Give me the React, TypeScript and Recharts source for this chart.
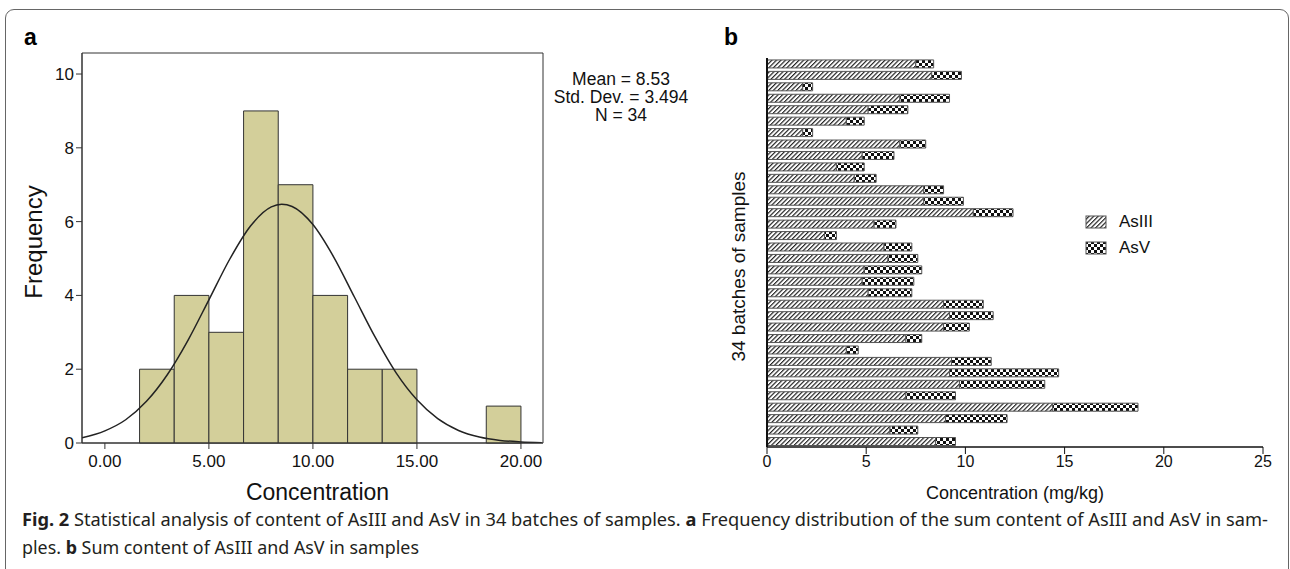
import { LineChart, Line, XAxis, YAxis, ReferenceArea, BarChart, Bar } from "recharts"

// panel a: histogram of total (AsIII + AsV) content
const binLow = [1.667, 3.333, 5.0, 6.667, 8.333, 10.0, 11.667, 13.333, 18.333]
const binHigh = [3.333, 5.0, 6.667, 8.333, 10.0, 11.667, 13.333, 15.0, 20.0]
const binFreq = [2, 4, 3, 9, 7, 4, 2, 2, 1]

// fitted normal curve
const curveX = [-1.1, 0, 1, 2, 3, 4, 5, 6, 7, 8, 8.5, 9, 10, 11, 12, 13, 14, 15, 16, 17, 18, 19, 20, 21]
const curveY = [0.14, 0.33, 0.63, 1.13, 1.85, 2.79, 3.88, 4.98, 5.88, 6.4, 6.47, 6.41, 5.92, 5.04, 3.95, 2.86, 1.9, 1.17, 0.66, 0.34, 0.16, 0.07, 0.03, 0.01]

const histXTicks = [0, 5, 10, 15, 20]
const histYTicks = [0, 2, 4, 6, 8, 10]

// panel b: 34 batches, top to bottom
const batchIds = [
  "1", "2", "3", "4", "5", "6", "7", "8", "9", "10", "11", "12", "13", "14", "15", "16", "17",
  "18", "19", "20", "21", "22", "23", "24", "25", "26", "27", "28", "29", "30", "31", "32", "33", "34",
]
const asIII = [
  7.5, 8.3, 1.8, 6.7, 5.1, 4.0, 1.8, 6.7, 4.8, 3.5, 4.4, 7.9, 7.9, 10.4, 5.4, 2.9, 5.9,
  6.1, 4.9, 4.8, 5.1, 8.9, 9.2, 8.9, 7.0, 4.0, 9.3, 9.2, 9.7, 7.0, 14.4, 9.0, 6.2, 8.5,
]
const asV = [
  0.9, 1.5, 0.5, 2.5, 2.0, 0.9, 0.5, 1.3, 1.6, 1.4, 1.1, 1.0, 2.0, 2.0, 1.1, 0.6, 1.4,
  1.5, 2.9, 2.6, 2.2, 2.0, 2.2, 1.3, 0.8, 0.6, 2.0, 5.5, 4.3, 2.5, 4.3, 3.1, 1.4, 1.0,
]
const concTicks = [0, 5, 10, 15, 20, 25]

const legendItems = [
  { label: "AsIII", pattern: "hatch" },
  { label: "AsV", pattern: "checker" },
]

const curveData = curveX.map((x, i) => ({ x, y: curveY[i] }))
const batchData = batchIds.map((id, i) => ({ id, asIII: asIII[i], asV: asV[i] }))

const FONT = "'Liberation Sans', Arial, sans-serif"

function PatternLegend() {
  return (
    <div style={{ position: "absolute", left: 1085, top: 209, fontFamily: FONT }}>
      {legendItems.map((item) => (
        <div key={item.label} style={{ display: "flex", alignItems: "center", height: 26 }}>
          <svg width={22} height={14}>
            <rect x={1} y={1} width={20} height={12} fill={`url(#${item.pattern})`} stroke="#555" />
          </svg>
          <span style={{ marginLeft: 12, fontSize: 17, color: "#111" }}>{item.label}</span>
        </div>
      ))}
    </div>
  )
}

export default function App() {
  return (
    <div
      style={{
        position: "absolute",
        left: 0,
        top: 0,
        width: 1290,
        height: 569,
        background: "#fff",
        overflow: "hidden",
        fontFamily: FONT,
      }}
    >
      <div
        style={{
          position: "absolute",
          left: 5,
          top: 9,
          width: 1282,
          height: 620,
          border: "1px solid #666",
          borderRadius: 9,
        }}
      />

      <div style={{ position: "absolute", left: 24, top: 24, fontSize: 23, fontWeight: "bold" }}>a</div>
      <div style={{ position: "absolute", left: 724, top: 24, fontSize: 23, fontWeight: "bold" }}>b</div>

      <div style={{ position: "absolute", left: 0, top: 0 }}>
        <LineChart
          width={700}
          height={505}
          data={curveData}
          margin={{ top: 53, right: 157, left: 22, bottom: 0 }}
        >
          <XAxis
            dataKey="x"
            type="number"
            domain={[-1.1, 21.06]}
            ticks={histXTicks}
            allowDataOverflow
            tickFormatter={(v: number) => v.toFixed(2)}
            height={62}
            stroke="#333"
            tickMargin={6}
            tick={{ fill: "#111", fontSize: 17 }}
            label={{ value: "Concentration", position: "insideBottom", offset: 5, dx: 5, fill: "#111", fontSize: 23 }}
          />
          <YAxis
            type="number"
            domain={[0, 10.57]}
            ticks={histYTicks}
            allowDataOverflow
            width={60}
            stroke="#333"
            tick={{ fill: "#111", fontSize: 17 }}
            label={{
              value: "Frequency",
              angle: -90,
              position: "insideLeft",
              offset: 11,
              dy: -6,
              fill: "#111",
              fontSize: 24,
              style: { textAnchor: "middle" },
            }}
          />
          <ReferenceArea x1={-1.1} x2={21.06} y1={0} y2={10.57} fill="none" stroke="#333" strokeWidth={1} />
          {binFreq.map((f, i) => (
            <ReferenceArea
              key={i}
              x1={binLow[i]}
              x2={binHigh[i]}
              y1={0}
              y2={f}
              fill="#d3cf9a"
              fillOpacity={1}
              stroke="#333"
              strokeWidth={1}
            />
          ))}
          <Line
            type="monotone"
            dataKey="y"
            stroke="#222"
            strokeWidth={1.5}
            dot={false}
            activeDot={false}
            isAnimationActive={false}
          />
        </LineChart>
      </div>

      <div
        style={{
          position: "absolute",
          left: 551,
          top: 70,
          width: 140,
          textAlign: "center",
          fontSize: 17.5,
          lineHeight: "18px",
          color: "#111",
        }}
      >
        <div>Mean = 8.53</div>
        <div>Std. Dev. = 3.494</div>
        <div>N = 34</div>
      </div>

      <div style={{ position: "absolute", left: 700, top: 0 }}>
        <BarChart
          width={583}
          height={505}
          data={batchData}
          layout="vertical"
          barCategoryGap="17%"
          margin={{ top: 58, right: 20, left: 17, bottom: 0 }}
        >
          <defs>
            <pattern id="hatch" patternUnits="userSpaceOnUse" width={3.2} height={3.2} patternTransform="rotate(45)">
              <rect width={3.2} height={3.2} fill="#fff" />
              <line x1={0.6} y1={0} x2={0.6} y2={3.2} stroke="#111" strokeWidth={1.1} />
            </pattern>
            <pattern id="checker" patternUnits="userSpaceOnUse" width={6} height={6}>
              <rect width={6} height={6} fill="#fff" />
              <rect x={0} y={0} width={3} height={3} fill="#111" />
              <rect x={3} y={3} width={3} height={3} fill="#111" />
            </pattern>
          </defs>
          <XAxis
            type="number"
            domain={[0, 25]}
            ticks={concTicks}
            height={58}
            axisLine={{ stroke: "#111", strokeWidth: 1.5 }}
            tickLine={{ stroke: "#111" }}
            tickSize={7}
            tick={{ fill: "#111", fontSize: 16 }}
            label={{ value: "Concentration (mg/kg)", position: "insideBottom", offset: 6, fill: "#111", fontSize: 18 }}
          />
          <YAxis
            type="category"
            dataKey="id"
            width={50}
            tick={false}
            tickLine={false}
            axisLine={{ stroke: "#111", strokeWidth: 2 }}
            label={{
              value: "34 batches of samples",
              angle: -90,
              position: "insideLeft",
              offset: 21,
              dy: 14,
              fill: "#111",
              fontSize: 19,
              style: { textAnchor: "middle" },
            }}
          />
          <Bar dataKey="asIII" stackId="s" fill="url(#hatch)" stroke="#555" strokeWidth={1} isAnimationActive={false} />
          <Bar dataKey="asV" stackId="s" fill="url(#checker)" stroke="#555" strokeWidth={1} isAnimationActive={false} />
        </BarChart>
      </div>

      <PatternLegend />

      <svg
        width={1290}
        height={569}
        style={{ position: "absolute", left: 0, top: 0, pointerEvents: "none" }}
      >
        <text
          x={22}
          y={526}
          textLength={1246}
          lengthAdjust="spacingAndGlyphs"
          fontFamily="'Noto Sans', sans-serif"
          fontSize={18}
          fill="#231f20"
        >
          <tspan fontWeight="bold">Fig. 2</tspan>
          {"  Statistical analysis of content of AsIII and AsV in 34 batches of samples. "}
          <tspan fontWeight="bold">a</tspan>
          {" Frequency distribution of the sum content of AsIII and AsV in sam-"}
        </text>
        <text
          x={22}
          y={554}
          textLength={397}
          lengthAdjust="spacingAndGlyphs"
          fontFamily="'Noto Sans', sans-serif"
          fontSize={18}
          fill="#231f20"
        >
          {"ples. "}
          <tspan fontWeight="bold">b</tspan>
          {" Sum content of AsIII and AsV in samples"}
        </text>
      </svg>
    </div>
  )
}
